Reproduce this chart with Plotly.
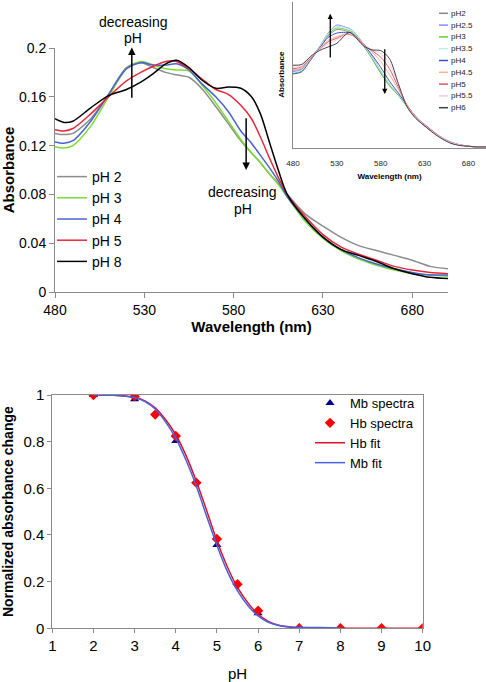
import plotly.graph_objects as go

W, H = 486, 682
FONT = "Liberation Sans, Arial, sans-serif"

# ---------------- main spectra (pH series) ----------------
wavelength = [480, 485, 490, 500, 510, 520, 528, 535, 542, 548, 555, 562, 570, 577, 584,
              590, 595, 600, 605, 610, 620, 630, 640, 650, 660, 670, 680, 690, 700]
abs_ph2 = [.130, .129, .130, .142, .162, .184, .188, .184, .180, .178, .176, .167, .152, .138, .124,
           .114, .106, .097, .089, .080, .064, .054, .045, .038, .034, .030, .026, .021, .019]
abs_ph3 = [.119, .118, .120, .136, .160, .183, .189, .186, .183, .182, .181, .170, .155, .140, .125,
           .114, .106, .097, .088, .078, .058, .044, .034, .027, .022, .018, .015, .014, .013]
abs_ph4 = [.123, .122, .124, .140, .162, .183, .188, .186, .186, .187, .182, .171, .160, .148, .132,
           .122, .112, .102, .091, .078, .060, .045, .035, .028, .023, .019, .016, .014, .014]
abs_ph5 = [.133, .132, .134, .146, .160, .173, .180, .185, .189, .189, .183, .175, .166, .162, .153,
           .142, .127, .110, .094, .080, .062, .047, .037, .031, .026, .021, .018, .016, .015]
abs_ph8 = [.142, .139, .140, .151, .161, .166, .172, .179, .187, .190, .184, .174, .167, .168, .167,
           .160, .146, .123, .100, .080, .060, .045, .035, .030, .025, .019, .015, .012, .011]
main_names = ["pH 2", "pH 3", "pH 4", "pH 5", "pH 8"]
main_colors = ["#8c8c8c", "#77dd33", "#4a62d0", "#e8283a", "#000000"]

# ---------------- inset spectra ----------------
wl_inset = [480, 490, 500, 510, 520, 530, 540, 545, 550, 560, 570, 580, 590, 600, 610, 620,
            630, 640, 650, 660, 670, 680, 690, 700]
ins_ph2 = [.106, .108, .123, .137, .153, .162, .160, .158, .154, .140, .122, .102, .085, .072, .057, .043, .031, .022, .014, .008, .004, .002, .001, .001]
ins_ph25 = [.104, .107, .122, .138, .157, .168, .165, .163, .158, .143, .125, .105, .087, .073, .057, .042, .030, .021, .013, .007, .004, .002, .001, .001]
ins_ph3 = [.102, .105, .121, .137, .155, .164, .162, .160, .156, .141, .123, .103, .085, .072, .056, .042, .030, .021, .013, .007, .004, .002, .001, .001]
ins_ph35 = [.103, .106, .121, .137, .156, .166, .164, .162, .157, .142, .124, .105, .087, .073, .057, .042, .031, .022, .014, .008, .004, .002, .001, .001]
ins_ph4 = [.101, .104, .120, .136, .151, .157, .158, .157, .154, .142, .127, .110, .091, .075, .058, .042, .030, .021, .013, .007, .004, .002, .001, .001]
ins_ph45 = [.106, .109, .122, .135, .147, .152, .156, .156, .153, .143, .131, .118, .100, .080, .059, .042, .031, .022, .013, .007, .004, .002, .001, .001]
ins_ph5 = [.108, .111, .123, .134, .145, .150, .155, .155, .152, .142, .133, .124, .108, .083, .058, .041, .032, .022, .013, .007, .004, .002, .001, .001]
ins_ph55 = [.110, .112, .124, .134, .142, .148, .155, .156, .152, .141, .134, .129, .115, .086, .057, .041, .031, .021, .013, .007, .004, .002, .001, .001]
ins_ph6 = [.113, .114, .125, .133, .138, .143, .155, .158, .153, .140, .134, .133, .122, .088, .056, .040, .030, .020, .012, .006, .003, .002, .001, .001]
inset_names = ["pH2", "pH2.5", "pH3", "pH3.5", "pH4", "pH4.5", "pH5", "pH5.5", "pH6"]
inset_colors = ["#888888", "#8888ff", "#66cc33", "#b8f0f0", "#3a55c8", "#ffb088", "#e05868", "#f0c8f0", "#404040"]

# ---------------- bottom: normalized change ----------------
ph_mb = [2, 3, 4, 5, 6, 7, 8]
mb_spectra = [1.0, 0.982, 0.803, 0.357, 0.064, 0.004, 0.0]
ph_hb = [2, 3, 3.5, 4, 4.5, 5, 5.5, 6, 7, 8, 9, 10]
hb_spectra = [1.0, 0.994, 0.916, 0.824, 0.624, 0.383, 0.189, 0.075, 0.0, 0.0, 0.0, 0.0]
fit_ph_hb = [2, 2.5, 3, 3.25, 3.5, 3.75, 4, 4.25, 4.5, 4.75, 5, 5.25, 5.5, 5.75, 6, 6.25, 6.5, 6.75, 7, 7.5, 8, 9, 10]
hb_fit = [1.0, 0.999, 0.99, 0.975, 0.945, 0.895, 0.83, 0.74, 0.63, 0.505, 0.375, 0.265, 0.175, 0.11, 0.06, 0.03, 0.013, 0.005, 0.002, 0.0, 0.0, 0.0, 0.0]
fit_ph_mb = [2, 2.5, 3, 3.25, 3.5, 3.75, 4, 4.25, 4.5, 4.75, 5, 5.25, 5.5, 5.75, 6, 6.25, 6.5, 6.75, 7, 7.5, 8]
mb_fit = [1.0, 0.999, 0.988, 0.972, 0.94, 0.885, 0.815, 0.72, 0.61, 0.48, 0.355, 0.245, 0.16, 0.098, 0.053, 0.026, 0.012, 0.007, 0.005, 0.003, 0.001]


def px(x):
    return x / W


def py(y):
    return 1 - y / H


fig = go.Figure()

for name, col, ys in zip(main_names, main_colors, [abs_ph2, abs_ph3, abs_ph4, abs_ph5, abs_ph8]):
    fig.add_trace(go.Scatter(x=wavelength, y=ys, name=name, mode="lines",
                             line=dict(color=col, width=1.5, shape="spline", smoothing=0.8),
                             xaxis="x", yaxis="y", legend="legend"))

inset_series = [ins_ph2, ins_ph25, ins_ph3, ins_ph35, ins_ph4, ins_ph45, ins_ph5, ins_ph55, ins_ph6]
for name, col, ys in zip(inset_names, inset_colors, inset_series):
    fig.add_trace(go.Scatter(x=wl_inset, y=ys, name=name, mode="lines",
                             line=dict(color=col, width=1, shape="spline", smoothing=0.8),
                             xaxis="x2", yaxis="y2", showlegend=False))

fig.add_trace(go.Scatter(x=ph_mb, y=mb_spectra, name="Mb spectra", mode="markers",
                         marker=dict(symbol="triangle-up", size=8, color="#00008b"),
                         xaxis="x3", yaxis="y3", legend="legend2"))
fig.add_trace(go.Scatter(x=ph_hb, y=hb_spectra, name="Hb spectra", mode="markers",
                         marker=dict(symbol="diamond", size=8, color="#ff0000"),
                         xaxis="x3", yaxis="y3", legend="legend2"))
fig.add_trace(go.Scatter(x=fit_ph_hb, y=hb_fit, name="Hb fit", mode="lines",
                         line=dict(color="#e0102a", width=1.5, shape="spline", smoothing=0.6),
                         xaxis="x3", yaxis="y3", legend="legend2"))
fig.add_trace(go.Scatter(x=fit_ph_mb, y=mb_fit, name="Mb fit", mode="lines",
                         line=dict(color="#4a62e0", width=1.5, shape="spline", smoothing=0.6),
                         xaxis="x3", yaxis="y3", legend="legend2"))

axis_common = dict(showgrid=False, zeroline=False, showline=True, linecolor="#8a8a8a",
                   linewidth=1, ticks="outside", ticklen=5, tickcolor="#8a8a8a", automargin=False,
                   tickfont=dict(family=FONT, size=14, color="#000"))

annotations = []
# inset legend (custom, compact)
shapes = []
for i, (name, col) in enumerate(zip(inset_names, inset_colors)):
    yy = 13.3 + i * 11.8
    shapes.append(dict(type="line", xref="paper", yref="paper", x0=px(439), x1=px(448),
                       y0=py(yy), y1=py(yy), line=dict(color=col, width=1.5)))
    annotations.append(dict(xref="paper", yref="paper", x=px(449), y=py(yy), text=name,
                            showarrow=False, xanchor="left", yanchor="middle",
                            font=dict(family=FONT, size=8, color="#222")))


def label(x, y, text):
    return dict(xref="paper", yref="paper", x=px(x), y=py(y), text=text, showarrow=False,
                xanchor="center", yanchor="middle", font=dict(family=FONT, size=14, color="#000"))


# main arrows and labels
annotations += [
    dict(xref="x", yref="y", axref="x", ayref="y", x=523, y=0.2005, ax=523, ay=0.158,
         text="", showarrow=True, arrowhead=2, arrowsize=1, arrowwidth=1.5, arrowcolor="#000"),
    dict(xref="x", yref="y", axref="x", ayref="y", x=587, y=0.100, ax=587, ay=0.1437,
         text="", showarrow=True, arrowhead=2, arrowsize=1, arrowwidth=1.5, arrowcolor="#000"),
    label(133, 22, "decreasing"),
    label(133, 38, "pH"),
    label(242, 192, "decreasing"),
    label(243, 209, "pH"),
    # inset arrows
    dict(xref="x2", yref="y2", axref="x2", ayref="y2", x=522.5, y=0.1835, ax=522.5, ay=0.1215,
         text="", showarrow=True, arrowhead=2, arrowsize=0.8, arrowwidth=1.3, arrowcolor="#000"),
    dict(xref="x2", yref="y2", axref="x2", ayref="y2", x=584.6, y=0.0735, ax=584.6, ay=0.137,
         text="", showarrow=True, arrowhead=2, arrowsize=0.8, arrowwidth=1.3, arrowcolor="#000"),
]

fig.update_layout(
    width=W, height=H, autosize=False,
    margin=dict(l=0, r=0, t=0, b=0, autoexpand=False),
    paper_bgcolor="white", plot_bgcolor="white",
    font=dict(family=FONT, size=14, color="#000"),
    xaxis=dict(axis_common, domain=[px(55), px(448)], range=[480, 700], tickvals=[480, 530, 580, 630, 680],
               anchor="y",
               title=dict(text="<b>Wavelength (nm)</b>", font=dict(family=FONT, size=15), standoff=0)),
    yaxis=dict(axis_common, domain=[py(292), py(48)], range=[0, 0.2], dtick=0.04, anchor="x",
               title=dict(text="<b>Absorbance</b>", font=dict(family=FONT, size=15), standoff=4)),
    xaxis2=dict(showgrid=False, zeroline=False, showline=True, linecolor="#8a8a8a", linewidth=1,
                automargin=False,
                domain=[px(293), 1.0], range=[480, 700], tickvals=[480, 530, 580, 630, 680],
                ticks="outside", ticklen=8, tickcolor="rgba(0,0,0,0)",
                tickfont=dict(family=FONT, size=8, color="#222"), anchor="y2",
                title=dict(text="<b>Wavelength (nm)</b>", font=dict(family=FONT, size=8), standoff=6)),
    yaxis2=dict(showgrid=False, zeroline=False, showline=True, linecolor="#8a8a8a", linewidth=1,
                automargin=False,
                domain=[py(147.7), py(1.7)], range=[0, 0.2], showticklabels=False, ticks="",
                anchor="x2",
                title=dict(text="<b>Absorbance</b>", font=dict(family=FONT, size=8), standoff=6)),
    xaxis3=dict(axis_common, domain=[px(52.3), px(422.7)], range=[1, 10], dtick=1, mirror=True,
                anchor="y3", ticklen=4, tickfont=dict(family=FONT, size=15, color="#000"),
                title=dict(text="pH", font=dict(family=FONT, size=15), standoff=15)),
    yaxis3=dict(axis_common, domain=[py(628.3), py(395)], range=[0, 1], dtick=0.2, mirror=True,
                anchor="x3", ticklen=4, tickfont=dict(family=FONT, size=15, color="#000"),
                title=dict(text="<b>Normalized absorbance change</b>", font=dict(family=FONT, size=14), standoff=6)),
    legend=dict(x=px(52), y=py(161), xanchor="left", yanchor="top", bgcolor="rgba(0,0,0,0)",
                font=dict(family=FONT, size=14, color="#000"), tracegroupgap=0),
    legend2=dict(x=px(310), y=py(388), xanchor="left", yanchor="top", bgcolor="rgba(0,0,0,0)",
                 font=dict(family=FONT, size=13, color="#000"), tracegroupgap=0),
    annotations=annotations,
    shapes=shapes,
)

fig.write_html("out.html", config={"displayModeBar": False},
               post_script="document.body.style.margin='0px';document.body.style.padding='0px';")
